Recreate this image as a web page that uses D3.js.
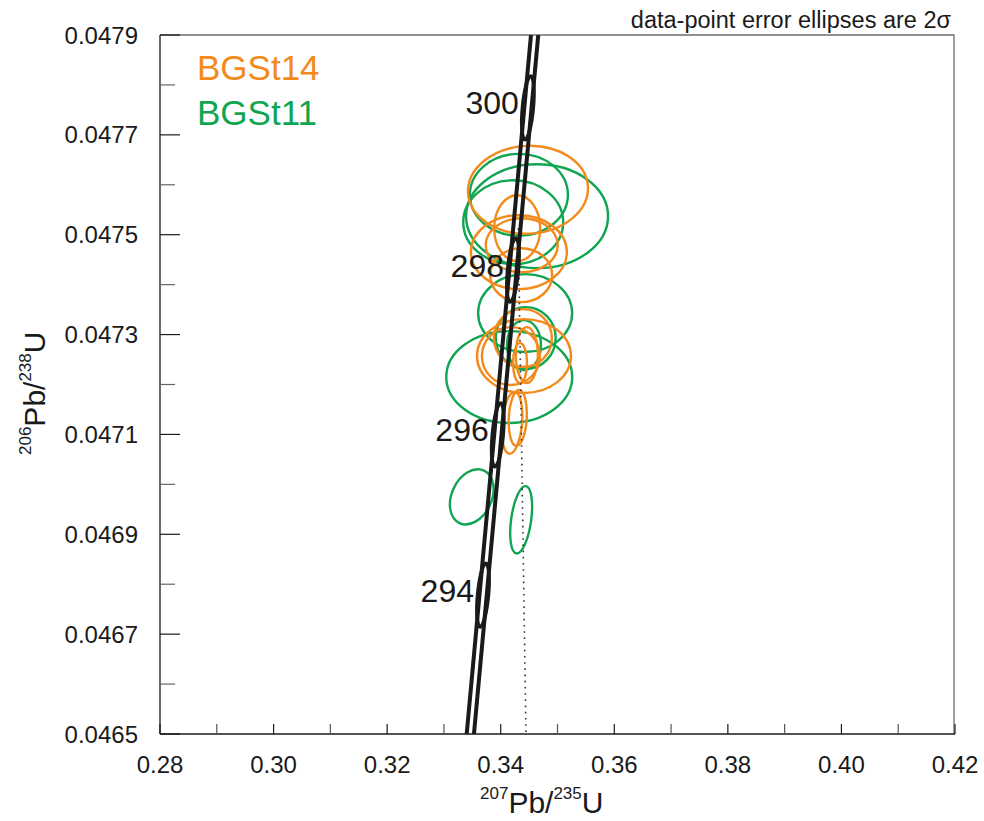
<!DOCTYPE html>
<html><head><meta charset="utf-8">
<script src="https://cdn.jsdelivr.net/npm/d3@7"></script>
<style>
body{margin:0;background:#fff;}
text{font-family:"Liberation Sans",Arial,sans-serif;fill:#1a1a1a;}
</style></head><body>
<svg id="chart" width="984" height="821"></svg>
<script>
// ---- axis ticks ----
const xTicks = [0.28,0.30,0.32,0.34,0.36,0.38,0.40,0.42];
const xMinorTicks = [0.29,0.31,0.33,0.35,0.37,0.39,0.41];
const yTicks = [0.0465,0.0467,0.0469,0.0471,0.0473,0.0475,0.0477,0.0479];
const yMinorTicks = [0.0466,0.0468,0.0470,0.0472,0.0474,0.0476,0.0478];

// ---- series ----
const seriesNames = ["BGSt14","BGSt11"];
const seriesColors = ["#F28A1C","#10A550"];

// BGSt14 : 207Pb/235U, 206Pb/238U, 2-sigma errors, ellipse tilt (deg)
const bgst14X    = [0.3448,0.3429,0.3432,0.3437,0.3436,0.3441,0.3439,0.3418,0.3446,0.3434,0.3420,0.3430];
const bgst14Y    = [0.047590,0.047513,0.047465,0.047479,0.047419,0.047257,0.047293,0.047257,0.047259,0.047243,0.047123,0.047133];
const bgst14XErr = [0.01057,0.00405,0.00845,0.00634,0.00546,0.00828,0.00511,0.00511,0.00194,0.00123,0.00176,0.00158];
const bgst14YErr = [0.000088,0.000066,0.000074,0.000054,0.000054,0.000074,0.000058,0.000058,0.000056,0.000040,0.000062,0.000056];
const bgst14Tilt = [-3,0,0,0,0,0,0,0,0,0,5,3];

// BGSt11
const bgst11X    = [0.3432,0.3464,0.3422,0.3443,0.3444,0.3441,0.3415,0.3349,0.3436];
const bgst11Y    = [0.047580,0.047537,0.047525,0.047343,0.047293,0.047279,0.047215,0.046975,0.046929];
const bgst11XErr = [0.00863,0.01250,0.00880,0.00828,0.00528,0.00299,0.01109,0.00352,0.00176];
const bgst11YErr = [0.000082,0.000104,0.000084,0.000078,0.000062,0.000050,0.000092,0.000058,0.000068];
const bgst11Tilt = [0,0,0,0,0,0,0,25,8];

// ---- concordia band ----
const concordiaLeft  = [[0.33401,0.0465],[0.34533,0.0479]];
const concordiaRight = [[0.33529,0.0465],[0.34661,0.0479]];
const markerAges = [294,296,298,300];
const markerX = [0.33688,0.33948,0.34216,0.34478];
const markerY = [0.046778,0.047099,0.047429,0.047754];
const markerHalfLen = 0.000064;   // along band, in 206/238 units
const markerHalfWid = 0.00095;    // across band, in 207/235 units

// dotted reference line
const dottedLine = [[0.34309,0.047513],[0.34445,0.0465]];

const noteText = "data-point error ellipses are 2σ";

// ---- layout ----
const L = 160, R = 955, T = 35, B = 734;
const svg = d3.select("#chart");
const x = d3.scaleLinear().domain([0.28,0.42]).range([L,R]);
const y = d3.scaleLinear().domain([0.0465,0.0479]).range([B,T]);

svg.append("defs").append("clipPath").attr("id","clip")
  .append("rect").attr("x",L).attr("y",T).attr("width",R-L).attr("height",B-T);

// frame: top and right grey
svg.append("path").attr("d",`M${L},${T}H${R-1}V${B}`).attr("fill","none")
  .attr("stroke","#6e6e6e").attr("stroke-width",1.3);

const plot = svg.append("g").attr("clip-path","url(#clip)");

// ellipses
function drawSeries(xs, ys, xe, ye, tilt, color){
  const data = xs.map((v,i)=>({cx:v, cy:ys[i], a:xe[i], b:ye[i], t:tilt[i]}));
  plot.append("g").selectAll("ellipse").data(data).join("ellipse")
    .attr("cx",d=>x(d.cx)).attr("cy",d=>y(d.cy))
    .attr("rx",d=>x(d.cx+d.a)-x(d.cx)).attr("ry",d=>y(d.cy)-y(d.cy+d.b))
    .attr("transform",d=>`rotate(${d.t},${x(d.cx)},${y(d.cy)})`)
    .attr("fill","none").attr("stroke",color).attr("stroke-width",2.4);
}
drawSeries(bgst11X,bgst11Y,bgst11XErr,bgst11YErr,bgst11Tilt,seriesColors[1]);
drawSeries(bgst14X,bgst14Y,bgst14XErr,bgst14YErr,bgst14Tilt,seriesColors[0]);

// dotted line
const line = d3.line().x(d=>x(d[0])).y(d=>y(d[1]));
plot.append("path").attr("d",line(dottedLine)).attr("fill","none")
  .attr("stroke","#333").attr("stroke-width",1.6).attr("stroke-dasharray","1.6,4.6");

// concordia band
[concordiaLeft, concordiaRight].forEach(c=>{
  plot.append("path").attr("d",line(c)).attr("fill","none")
    .attr("stroke","#1a1a1a").attr("stroke-width",4);
});
const p0 = concordiaLeft[0], p1 = concordiaLeft[1];
const ang = Math.atan2(x(p1[0])-x(p0[0]), y(p0[1])-y(p1[1]))*180/Math.PI;
markerAges.forEach((age,i)=>{
  const cx = x(markerX[i]), cy = y(markerY[i]);
  plot.append("ellipse").attr("cx",cx).attr("cy",cy)
    .attr("rx",x(markerX[i]+markerHalfWid)-cx)
    .attr("ry",cy-y(markerY[i]+markerHalfLen))
    .attr("transform",`rotate(${ang},${cx},${cy})`)
    .attr("fill","none").attr("stroke","#1a1a1a").attr("stroke-width",3.6);
  svg.append("text").attr("x",cx-9).attr("y",cy-5).attr("dy","0.36em")
    .attr("text-anchor","end").attr("font-size",32).text(age);
});

// axes lines
svg.append("line").attr("x1",L).attr("x2",L).attr("y1",T).attr("y2",B)
  .attr("stroke","#1a1a1a").attr("stroke-width",1.3);
svg.append("line").attr("x1",L).attr("x2",R).attr("y1",B).attr("y2",B)
  .attr("stroke","#1a1a1a").attr("stroke-width",1.3);

// x ticks (inside, upward)
svg.append("g").selectAll("line").data(xTicks.concat(xMinorTicks)).join("line")
  .attr("x1",d=>x(d)).attr("x2",d=>x(d)).attr("y1",B).attr("y2",B-10)
  .attr("stroke",d=>xTicks.includes(d)?"#1a1a1a":"#555").attr("stroke-width",1.2);
svg.append("g").selectAll("text").data(xTicks).join("text")
  .attr("x",d=>x(d)).attr("y",773).attr("text-anchor","middle")
  .attr("font-size",24).text(d=>d3.format(".2f")(d));

// y ticks (inside, rightward)
svg.append("g").selectAll("line").data(yTicks).join("line")
  .attr("x1",L).attr("x2",L+20).attr("y1",d=>y(d)).attr("y2",d=>y(d))
  .attr("stroke","#1a1a1a").attr("stroke-width",1.2);
svg.append("g").selectAll("line").data(yMinorTicks).join("line")
  .attr("x1",L).attr("x2",L+15).attr("y1",d=>y(d)).attr("y2",d=>y(d))
  .attr("stroke","#666").attr("stroke-width",1.2);
svg.append("g").selectAll("text").data(yTicks).join("text")
  .attr("x",138).attr("y",d=>y(d)).attr("dy","0.36em").attr("text-anchor","end")
  .attr("font-size",24).text(d=>d3.format(".4f")(d));

// axis titles
function isoTitle(g, supA, main, supB, end){
  const t = g.append("text").attr("font-size",30);
  t.append("tspan").attr("font-size",17).attr("dy",-14).text(supA);
  t.append("tspan").attr("dy",14).text(main);
  t.append("tspan").attr("font-size",17).attr("dy",-14).text(supB);
  t.append("tspan").attr("dy",14).text(end);
  return t;
}
isoTitle(svg.append("g").attr("transform","translate(480,813)"),"207","Pb/","235","U");
isoTitle(svg.append("g").attr("transform","translate(45,455) rotate(-90)"),"206","Pb/","238","U");

// legend
seriesNames.forEach((n,i)=>{
  svg.append("text").attr("x",197).attr("y",80+i*45).attr("font-size",35)
    .style("fill",seriesColors[i]).text(n);
});

// note
svg.append("text").attr("x",951).attr("y",28).attr("text-anchor","end")
  .attr("font-size",23.5).text(noteText);
</script>
</body></html>
